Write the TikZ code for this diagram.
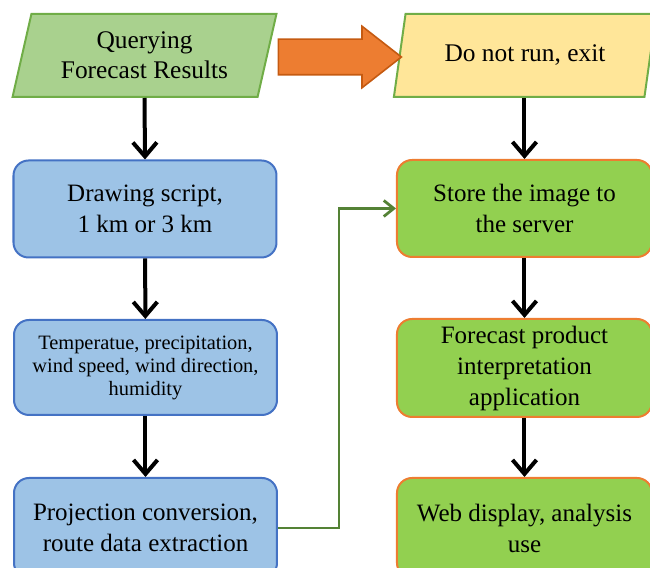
\documentclass[tikz,border=0pt]{standalone}
\usepackage{fontspec}
\setmainfont{Liberation Serif}
\usetikzlibrary{shapes.geometric,shapes.arrows,arrows.meta}
\definecolor{qfill}{HTML}{A9D18E}
\definecolor{efill}{HTML}{FFE699}
\definecolor{paraline}{HTML}{70AD47}
\definecolor{bfill}{HTML}{9DC3E6}
\definecolor{bline}{HTML}{4472C4}
\definecolor{gfill}{HTML}{92D050}
\definecolor{gline}{HTML}{ED7D31}
\definecolor{afill}{HTML}{ED7D31}
\definecolor{aline}{HTML}{C55A11}
\definecolor{linkc}{HTML}{548235}
\begin{document}
\begin{tikzpicture}[x=0.5pt,y=0.5pt,
  para/.style={draw=paraline,line width=1pt,shape=trapezium,trapezium left angle=76,
    trapezium right angle=104,trapezium stretches=true,minimum width=132pt,
    minimum height=41.5pt,align=center,font=\fontsize{12.7}{15}\selectfont},
  bbox/.style={draw=bline,fill=bfill,line width=1pt,rounded corners=7.5pt,
    minimum width=131.5pt,minimum height=48.5pt,align=center,
    font=\fontsize{12.5}{15.5}\selectfont},
  gbox/.style={bbox,draw=gline,fill=gfill,minimum width=127.5pt},
  flow/.style={-{Straight Barb[length=7pt,width=12pt]},line width=2pt},
  link/.style={-{Straight Barb[length=5pt,width=8pt]},line width=1.4pt,draw=linkc}]
\useasboundingbox (0,0) rectangle (650,568);
\node [para,fill=qfill,name=q] at (144.5,512.5){Querying\\Forecast Results};
\node [para,fill=efill,name=e,minimum width=132pt] at (525,512.5){Do not run, exit};
\node [single arrow,fill=afill,draw=aline,line width=0.8pt,name=a,inner xsep=0pt,
  inner ysep=8.5pt,minimum height=61.5pt,single arrow head extend=6.5pt,
  single arrow tip angle=76,single arrow head indent=0pt] at (328.5,511){};
\node [bbox,name=b1] at (145,359){Drawing script,\\1 km or 3 km};
\node [bbox,name=b2,font=\fontsize{10.2}{11.5}\selectfont,minimum height=47.5pt] at (145.5,200.5)
  {Temperatue, precipitation,\\wind speed, wind direction,\\humidity};
\node [bbox,name=b3,minimum height=50pt] at (145.5,40){Projection conversion,\\route data extraction};
\node [gbox,name=g1] at (524.5,359.5){Store the image to\\the server};
\node [gbox,name=g2] at (524.5,200){Forecast product\\interpretation\\application};
\node [gbox,name=g3,minimum height=50pt] at (524.5,40){Web display, analysis\\use};
\draw[flow] (q.south) -- (b1.north);
\draw[flow] (b1) -- (b2);
\draw[flow] (b2) -- (b3);
\draw[flow] (g1.north |- e.south) -- (g1.north);
\draw[flow] (g1) -- (g2);
\draw[flow] (g2) -- (g3);
\draw[link] (b3.east) -- ++(61,0) |- (g1.west);
\end{tikzpicture}
\end{document}
